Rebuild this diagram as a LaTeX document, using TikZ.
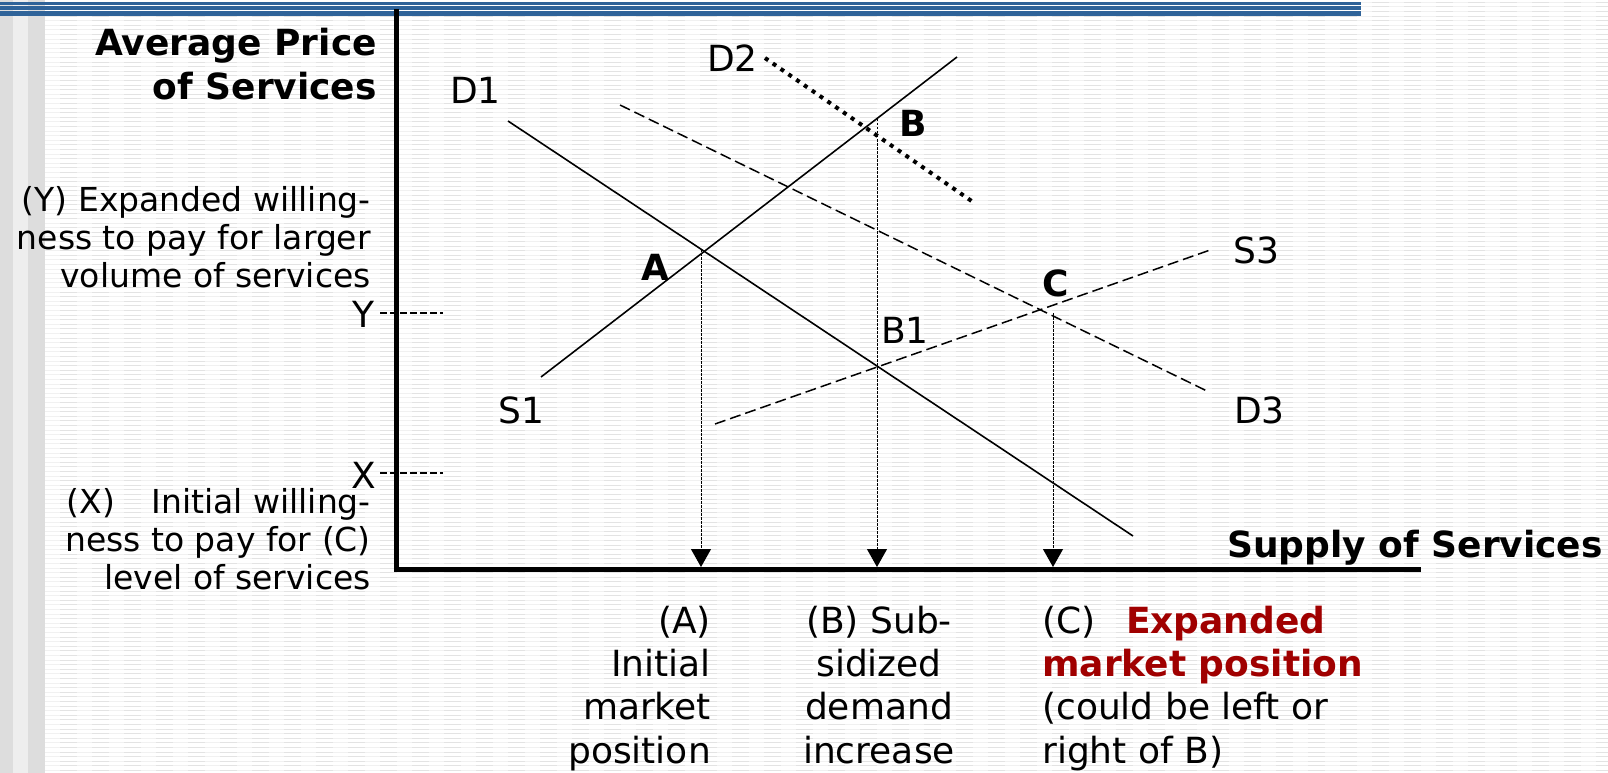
\documentclass[tikz,border=0pt]{standalone}
\usepackage{fontspec}
\setmainfont{DejaVu Sans}
\usetikzlibrary{arrows.meta}
\definecolor{barblue}{HTML}{2F6399}
\definecolor{marketred}{HTML}{A00000}
\definecolor{stripelight}{HTML}{F1F1F1}
\definecolor{stripedark}{HTML}{E3E3E3}
\definecolor{sidegray}{HTML}{DDDDDD}
\definecolor{sidelight}{HTML}{EEEEEE}
\tikzset{
	curvelabel/.style={font=\fontsize{36}{43}\selectfont, inner sep=0pt},
	pointlabel/.style={font=\fontsize{36}{43}\selectfont\bfseries, inner sep=0pt},
	sidenote/.style={font=\fontsize{33}{38}\selectfont, inner sep=0pt, align=right},
}

\begin{document}
\begin{tikzpicture}[
    x=1pt, y=-1pt,
    >={Triangle[width=20pt,length=18pt]},
    axis/.style={line width=5pt},
    curve/.style={line width=1.6pt},
    shiftcurve/.style={line width=1.5pt, dash pattern=on 11pt off 5pt},
    subsidy/.style={line width=4pt, dash pattern=on 4pt off 5.5pt},
    drop/.style={line width=1pt, dash pattern=on 2.5pt off 1.5pt, ->},
    tick/.style={line width=1.5pt, dash pattern=on 7pt off 3pt},
    axislabel/.style={font=\fontsize{36}{44}\selectfont\bfseries, inner sep=0pt},
    bottomnote/.style={font=\fontsize{36}{43.3}\selectfont, inner sep=0pt}
]
\useasboundingbox (0,0) rectangle (1608,773);

% background
\fill[white] (0,0) rectangle (1608,773);
\fill[sidegray] (0,0) rectangle (13,773);
\fill[sidelight] (13,0) rectangle (28,773);
\fill[sidegray] (28,0) rectangle (45,773);
\foreach \y in {2.3,6.9,...,773} {
    \draw[stripelight, line width=0.9pt] (45,\y) -- (1608,\y);
    \draw[stripedark, line width=0.9pt, dash pattern=on 17pt off 15pt, dash phase=17pt] (45,\y) -- (1608,\y);
}
\fill[barblue] (0,2) rectangle (1361,5);
\fill[barblue] (0,6) rectangle (1361,10);
\fill[barblue] (0,11) rectangle (1361,16);

% axes
\coordinate (origin) at (396.5,569.5);
\coordinate (ytop) at (396.5,9);
\coordinate (xend) at (1421,569.5);
\draw[axis] (ytop) -- (origin.center) -- (xend);

% price levels
\coordinate (yl) at (380,313);
\coordinate (yr) at (443,313);
\coordinate (xl) at (380,473);
\coordinate (xr) at (443,473);
\draw[tick] (yl) -- (yr);
\draw[tick] (xl) -- (xr);

% curves
\coordinate (s1a) at (541,377);
\coordinate (s1b) at (957,57);
\coordinate (d1a) at (508,121);
\coordinate (d1b) at (1133,536);
\coordinate (d2a) at (765,58);
\coordinate (d2b) at (973,202);
\coordinate (d3a) at (620,105);
\coordinate (d3b) at (1209,392);
\coordinate (s3a) at (715,424);
\coordinate (s3b) at (1213,249);
\draw[curve] (s1a) -- (s1b);
\draw[curve] (d1a) -- (d1b);
\draw[subsidy] (d2a) -- (d2b);
\draw[shiftcurve] (d3a) -- (d3b);
\draw[shiftcurve] (s3a) -- (s3b);

% market positions
\coordinate (ptA) at (701,249);
\coordinate (ptB) at (877,119);
\coordinate (ptC) at (1053,313);
\coordinate (qA) at (701,567);
\coordinate (qB) at (877,567);
\coordinate (qC) at (1053,567);
\draw[drop] (ptA) -- (qA);
\draw[drop] (ptB) -- (qB);
\draw[drop] (ptC) -- (qC);

% labels
\node[curvelabel, anchor=base west] (lD1) at (450,104) {D1};
\node[curvelabel, anchor=base west] (lD2) at (707,72) {D2};
\node[curvelabel, anchor=base west] (lD3) at (1234,423) {D3};
\node[curvelabel, anchor=base west] (lS1) at (498,423) {S1};
\node[curvelabel, anchor=base west] (lS3) at (1233,263) {S3};
\node[curvelabel, anchor=base west] (lB1) at (881,343) {B1};
\node[pointlabel, anchor=base west] (lA) at (641,280) {A};
\node[pointlabel, anchor=base west] (lB) at (899,136) {B};
\node[pointlabel, anchor=base west] (lC) at (1042,296) {C};
\node[curvelabel, anchor=base east] (lY) at (375,327) {Y};
\node[curvelabel, anchor=base east] (lX) at (376,488) {X};

\node[axislabel, anchor=base east, align=right] (price) at (377,100) {Average Price\\of Services};
\node[axislabel, anchor=base east] (supply) at (1603,557) {Supply of Services};

\node[sidenote, anchor=base east] (noteY) at (371,287)
    {(Y) Expanded willing-\\ness to pay for larger\\volume of services};
\node[sidenote, anchor=base east] (noteX) at (371,589)
    {(X)\hspace{1.1em}Initial willing-\\ness to pay for (C)\\level of services};

\node[bottomnote, anchor=base east, align=right] (noteA) at (711,763)
    {(A)\\Initial\\market\\position};
\node[bottomnote, anchor=base, align=center] (noteB) at (879,763)
    {(B) Sub-\\sidized\\demand\\increase};
\node[bottomnote, anchor=base west, align=left] (noteC) at (1042,763)
    {(C)\hspace{0.85em}\textcolor{marketred}{\bfseries Expanded}\\\textcolor{marketred}{\bfseries market position}\\(could be left or\\right of B)};
\end{tikzpicture}
\end{document}
